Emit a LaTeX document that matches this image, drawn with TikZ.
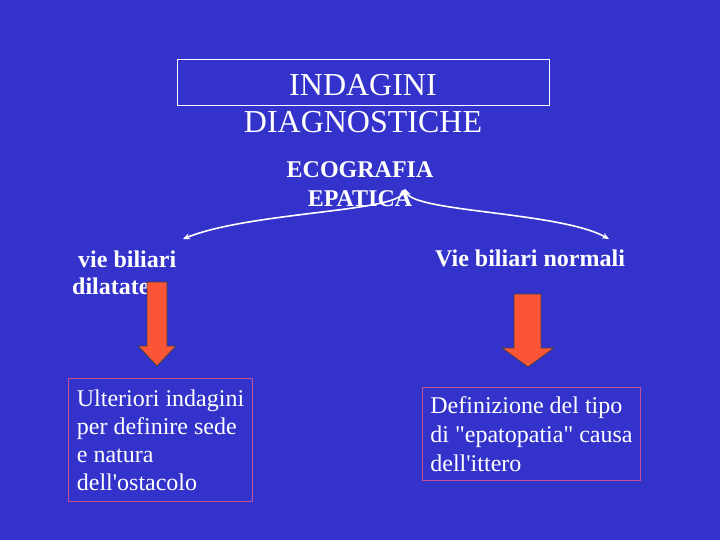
\documentclass[tikz,border=0pt]{standalone}
\usepackage{fontspec}
\setmainfont{Liberation Serif}
\usetikzlibrary{arrows.meta,positioning}
\definecolor{slideblue}{RGB}{51,51,204}
\definecolor{boxred}{RGB}{200,80,150}
\definecolor{arrowred}{RGB}{250,85,55}

\begin{document}
\begin{tikzpicture}[
  x=1bp, y=-1bp,
  every node/.style={text=white, inner sep=0pt},
  titlebox/.style={draw=white, line width=1bp, minimum width=372bp, minimum height=46bp},
  heading/.style={font=\fontsize{32bp}{37bp}\selectfont, align=center},
  exam/.style={font=\bfseries\fontsize{24bp}{29bp}\selectfont, align=center},
  branch/.style={font=\bfseries\fontsize{24bp}{27bp}\selectfont, align=left},
  result/.style={draw=boxred, line width=1bp, align=left, font=\fontsize{24bp}{28bp}\selectfont},
  curve/.style={draw=white, line width=1.6bp, {Stealth[length=7bp,width=6bp]}-{Stealth[length=7bp,width=6bp]}},
  blockarrow/.style={draw=black!75, fill=arrowred, line width=0.8bp}
]
\fill[slideblue] (0,0) rectangle (720,540);
\useasboundingbox (0,0) rectangle (720,540);

\node[titlebox] (titlebox) at (363,83) {};
\node[heading, anchor=north] (title) at (363,74) {INDAGINI\\DIAGNOSTICHE};
\node[exam, anchor=north] (eco) at (360,161) {ECOGRAFIA\\EPATICA};

\coordinate (apex) at (405,189);
\coordinate (leftend) at (183,239);
\coordinate (rightend) at (609,239);
\draw[curve] (leftend) .. controls (250,212) and (395,212) .. (apex);
\draw[curve] (apex) .. controls (415,212) and (560,212) .. (rightend);

\node[branch, anchor=north west] (dilated) at (72,250.5) {\hspace*{6bp}vie biliari\\dilatate};
\node[branch, anchor=base west] (normal) at (435,267) {Vie biliari normali};

% block arrows
\draw[blockarrow] (147,282) -- (167,282) -- (167,346) -- (176,346) -- (157,366)
  -- (138,346) -- (147,346) -- cycle;
\draw[blockarrow] (514,294) -- (541,294) -- (541,348) -- (554,348) -- (528,367)
  -- (502,348) -- (514,348) -- cycle;

\node[result, anchor=north west, minimum width=184bp, minimum height=123bp] (further) at (68,378)
  {Ulteriori indagini\\per definire sede\\e natura\\dell\textquotesingle ostacolo};
\node[result, anchor=north west, minimum width=218bp, minimum height=93bp,
  font=\fontsize{24bp}{29bp}\selectfont] (kind) at (422,387)
  {Definizione del tipo\\di \textquotedbl epatopatia\textquotedbl{} causa\\dell\textquotesingle ittero};
\end{tikzpicture}
\end{document}
